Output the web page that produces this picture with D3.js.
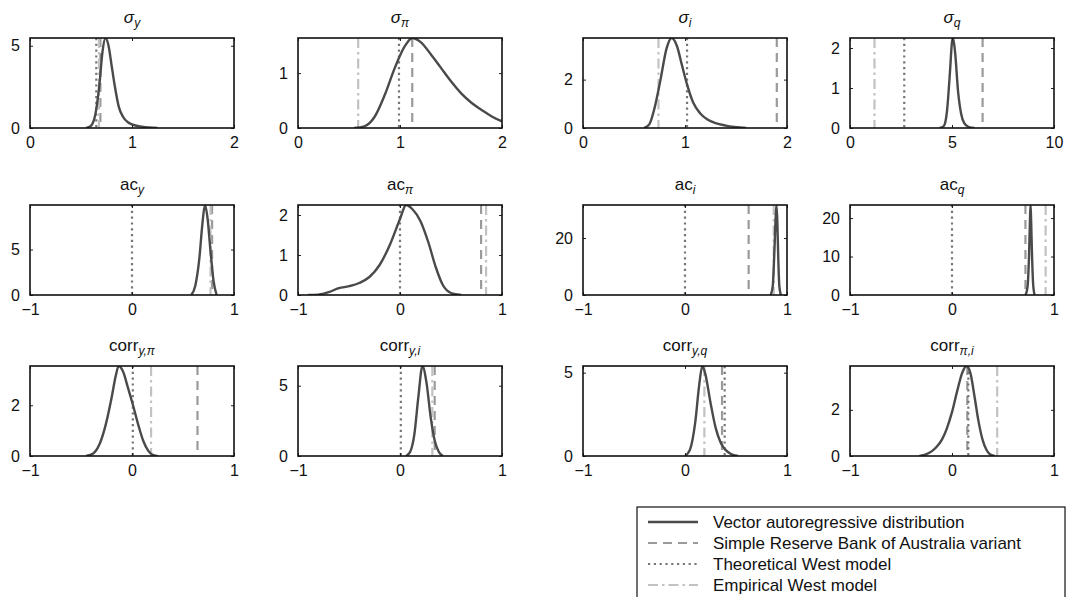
<!DOCTYPE html>
<html>
<head>
<meta charset="utf-8">
<script src="https://cdn.jsdelivr.net/npm/d3@7"></script>
<style>
  body { margin: 0; background: #fff; }
  text { font-family: "Liberation Sans", Arial, sans-serif; fill: #111; }
</style>
</head>
<body>
<div id="chart"></div>
<script>
// panel titles
var titleMain = ["σ", "σ", "σ", "σ", "ac", "ac", "ac", "ac", "corr", "corr", "corr", "corr"];
var titleSub = ["y", "π", "i", "q", "y", "π", "i", "q", "y,π", "y,i", "y,q", "π,i"];

// axes
var xDomains = [[0, 2], [0, 2], [0, 2], [0, 10],
                [-1, 1], [-1, 1], [-1, 1], [-1, 1],
                [-1, 1], [-1, 1], [-1, 1], [-1, 1]];
var yMax = [5.47, 1.64, 3.72, 2.25, 9.9, 2.25, 31.6, 23.4, 3.55, 6.4, 5.4, 3.9];
var xTicks = [[0, 1, 2], [0, 1, 2], [0, 1, 2], [0, 5, 10],
              [-1, 0, 1], [-1, 0, 1], [-1, 0, 1], [-1, 0, 1],
              [-1, 0, 1], [-1, 0, 1], [-1, 0, 1], [-1, 0, 1]];
var yTicks = [[0, 5], [0, 1], [0, 2], [0, 1, 2], [0, 5], [0, 1, 2], [0, 20], [0, 10, 20],
              [0, 2], [0, 5], [0, 5], [0, 2]];

// model values (vertical lines)
var rbaValues = [0.69, 1.12, 1.9, 6.5, 0.785, 0.795, 0.624, 0.72, 0.642, 0.34, 0.363, 0.15];
var theoreticalValues = [0.65, 0.99, 1.02, 2.66, 0.0, 0.0, 0.0, 0.0, 0.008, 0.008, 0.389, 0.16];
var empiricalValues = [0.676, 0.59, 0.74, 1.2, 0.77, 0.844, 0.87, 0.918, 0.187, 0.317, 0.19, 0.443];

// vector autoregressive distributions
var varSigmaY = [[0.55, 0], [0.6, 0.15], [0.64, 0.8], [0.68, 2.6], [0.71, 4.6], [0.74, 5.47], [0.77, 5.0],
  [0.8, 3.8], [0.83, 2.6], [0.87, 1.3], [0.91, 0.7], [0.96, 0.35], [1.0, 0.22], [1.1, 0.08], [1.25, 0]];
var varSigmaPi = [[0.55, 0], [0.65, 0.03], [0.75, 0.2], [0.85, 0.6], [0.95, 1.1], [1.05, 1.5], [1.12, 1.64],
  [1.2, 1.57], [1.3, 1.35], [1.4, 1.1], [1.5, 0.85], [1.6, 0.63], [1.7, 0.46], [1.8, 0.33], [1.9, 0.21], [2.0, 0.12]];
var varSigmaI = [[0.6, 0], [0.65, 0.15], [0.7, 0.8], [0.76, 2.0], [0.82, 3.3], [0.87, 3.72], [0.92, 3.4],
  [0.97, 2.6], [1.02, 1.8], [1.08, 1.05], [1.15, 0.6], [1.22, 0.35], [1.3, 0.2], [1.4, 0.1], [1.6, 0]];
var varSigmaQ = [[4.4, 0], [4.6, 0.05], [4.75, 0.4], [4.9, 1.4], [5.0, 2.15], [5.05, 2.25], [5.15, 1.9],
  [5.3, 0.9], [5.45, 0.35], [5.6, 0.12], [5.8, 0.03], [6.1, 0]];
var varAcY = [[0.58, 0], [0.62, 1.0], [0.66, 4.0], [0.69, 7.8], [0.715, 9.9], [0.74, 8.5], [0.77, 4.8],
  [0.8, 1.5], [0.83, 0]];
var varAcPi = [[-0.9, 0], [-0.8, 0.01], [-0.7, 0.07], [-0.6, 0.17], [-0.5, 0.22], [-0.4, 0.3], [-0.3, 0.45],
  [-0.2, 0.75], [-0.1, 1.25], [0, 1.9], [0.06, 2.25], [0.12, 2.15], [0.2, 1.85], [0.28, 1.3], [0.35, 0.7],
  [0.42, 0.25], [0.5, 0.05], [0.6, 0]];
var varAcI = [[0.84, 0], [0.86, 3], [0.875, 14], [0.89, 28], [0.897, 31.6], [0.905, 26], [0.915, 12],
  [0.925, 3], [0.94, 0]];
var varAcQ = [[0.72, 0], [0.74, 2], [0.755, 10], [0.765, 20], [0.77, 23.4], [0.775, 20], [0.785, 10],
  [0.795, 3], [0.81, 0]];
var varCorrYPi = [[-0.45, 0], [-0.38, 0.1], [-0.32, 0.45], [-0.26, 1.2], [-0.2, 2.3], [-0.16, 3.15],
  [-0.13, 3.55], [-0.09, 3.35], [-0.04, 2.7], [0.01, 2.0], [0.06, 1.25], [0.11, 0.6], [0.16, 0.2],
  [0.21, 0.03], [0.25, 0]];
var varCorrYI = [[0.06, 0], [0.1, 0.3], [0.14, 1.5], [0.18, 4.2], [0.22, 6.4], [0.26, 5.2], [0.3, 2.8],
  [0.34, 1.1], [0.38, 0.3], [0.42, 0]];
var varCorrYQ = [[0.0, 0], [0.05, 0.4], [0.1, 2.0], [0.14, 4.3], [0.17, 5.4], [0.2, 4.9], [0.25, 3.2],
  [0.3, 1.7], [0.35, 0.8], [0.4, 0.35], [0.45, 0.12], [0.52, 0]];
var varCorrPiI = [[-0.32, 0], [-0.25, 0.08], [-0.2, 0.2], [-0.15, 0.4], [-0.1, 0.7], [-0.05, 1.2],
  [0.0, 1.9], [0.05, 2.8], [0.1, 3.6], [0.14, 3.9], [0.18, 3.6], [0.22, 2.6], [0.26, 1.5], [0.3, 0.7],
  [0.34, 0.25], [0.38, 0.05], [0.42, 0]];

var curves = [varSigmaY, varSigmaPi, varSigmaI, varSigmaQ, varAcY, varAcPi, varAcI, varAcQ,
              varCorrYPi, varCorrYI, varCorrYQ, varCorrPiI];

var legendLabels = ["Vector autoregressive distribution", "Simple Reserve Bank of Australia variant",
                    "Theoretical West model", "Empirical West model"];

// styles
var styles = {
  var: { color: "#4a4a4a", dash: null, width: 2.4 },
  rba: { color: "#9a9a9a", dash: "9,6", width: 2.2 },
  theo: { color: "#767676", dash: "2.2,3.6", width: 2.2 },
  emp: { color: "#c2c2c2", dash: "10,4,2.5,4", width: 2.2 }
};

var width = 1083, height = 597;
var colLeft = [30, 298, 583, 850];
var rowTop = [38, 205, 366];
var pw = 204, ph = 90;

var svg = d3.select("#chart").append("svg")
    .attr("width", width)
    .attr("height", height);

var fmt = d3.format("d");

curves.forEach(function (curve, k) {
  var r = Math.floor(k / 4), c = k % 4;
  var g = svg.append("g")
      .attr("transform", "translate(" + colLeft[c] + "," + rowTop[r] + ")");

  var x = d3.scaleLinear().domain(xDomains[k]).range([0, pw]);
  var y = d3.scaleLinear().domain([0, yMax[k]]).range([ph, 0]);

  g.append("clipPath").attr("id", "clip" + k)
    .append("rect").attr("width", pw).attr("height", ph);

  var plot = g.append("g").attr("clip-path", "url(#clip" + k + ")");

  // vertical model lines
  [[rbaValues[k], styles.rba], [theoreticalValues[k], styles.theo], [empiricalValues[k], styles.emp]]
    .forEach(function (d) {
      plot.append("line")
        .attr("x1", x(d[0])).attr("x2", x(d[0]))
        .attr("y1", 0).attr("y2", ph)
        .attr("stroke", d[1].color)
        .attr("stroke-width", d[1].width)
        .attr("stroke-dasharray", d[1].dash);
    });

  // density curve
  var line = d3.line()
      .x(function (d) { return x(d[0]); })
      .y(function (d) { return y(d[1]); })
      .curve(d3.curveMonotoneX);

  plot.append("path")
    .datum(curve)
    .attr("d", line)
    .attr("fill", "none")
    .attr("stroke", styles.var.color)
    .attr("stroke-width", styles.var.width);

  // axes, matlab style: inward ticks on all sides
  var xb = g.append("g").attr("transform", "translate(0," + ph + ")")
      .call(d3.axisBottom(x).tickValues(xTicks[k]).tickFormat(fmt).tickSize(-3).tickPadding(9));
  var xt = g.append("g")
      .call(d3.axisTop(x).tickValues(xTicks[k]).tickSize(-3).tickFormat(""));
  var yl = g.append("g")
      .call(d3.axisLeft(y).tickValues(yTicks[k]).tickFormat(fmt).tickSize(-3).tickPadding(10));
  var yr = g.append("g").attr("transform", "translate(" + pw + ",0)")
      .call(d3.axisRight(y).tickValues(yTicks[k]).tickSize(-3).tickFormat(""));

  [xb, xt, yl, yr].forEach(function (a) {
    a.select(".domain").remove();
    a.selectAll("line").attr("stroke", "#222").attr("stroke-width", 1);
    a.selectAll("text").attr("font-size", 16).attr("fill", "#111")
      .attr("font-family", "Liberation Sans, Arial, sans-serif");
  });

  g.append("rect")
    .attr("width", pw).attr("height", ph)
    .attr("fill", "none")
    .attr("stroke", "#111")
    .attr("stroke-width", 1.6);

  // title
  var t = g.append("text")
      .attr("x", pw / 2).attr("y", -15)
      .attr("text-anchor", "middle")
      .attr("font-size", 17);
  t.append("tspan").text(titleMain[k])
    .attr("font-style", titleMain[k] === "σ" ? "italic" : "normal");
  t.append("tspan").text(titleSub[k])
    .attr("font-size", 12).attr("font-style", "italic").attr("dy", 4);
});

// legend
var legend = svg.append("g").attr("transform", "translate(637,507)");
legend.append("rect")
  .attr("width", 428).attr("height", 100)
  .attr("fill", "#fff").attr("stroke", "#111").attr("stroke-width", 1.2);

[styles.var, styles.rba, styles.theo, styles.emp].forEach(function (s, i) {
  var yy = 15 + i * 21;
  legend.append("line")
    .attr("x1", 11).attr("x2", 61)
    .attr("y1", yy).attr("y2", yy)
    .attr("stroke", s.color)
    .attr("stroke-width", s.width)
    .attr("stroke-dasharray", s.dash);
  legend.append("text")
    .attr("x", 76).attr("y", yy + 6)
    .attr("font-size", 17)
    .text(legendLabels[i]);
});
</script>
</body>
</html>
